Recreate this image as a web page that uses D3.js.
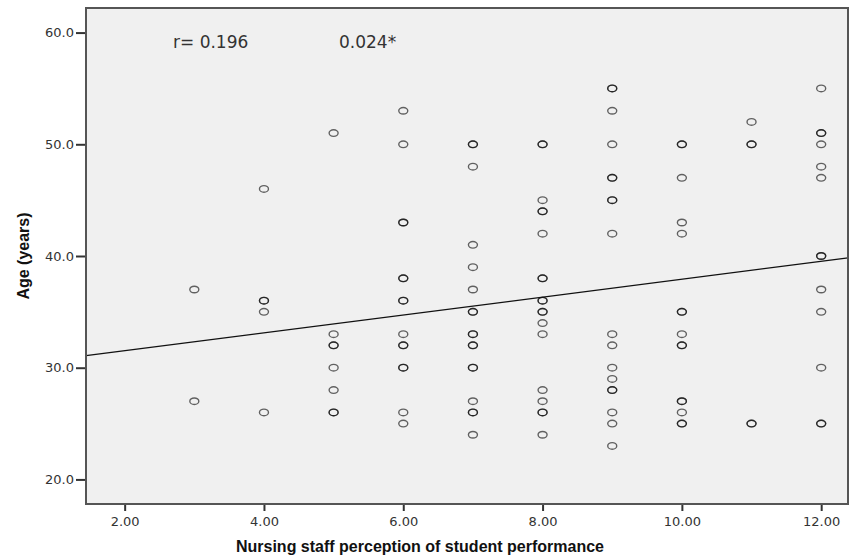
<!DOCTYPE html>
<html><head><meta charset="utf-8">
<script src="https://cdn.jsdelivr.net/npm/d3@7"></script>
<style>
html,body{margin:0;padding:0;background:#fff;}
svg{display:block;}
</style></head>
<body>
<svg id="chart" width="851" height="558"></svg>
<script>
// ---- data ----
const scoreCategories = [3, 4, 5, 6, 7, 8, 9, 10, 11, 12];
const agesScore3  = [37, 27];
const agesScore4  = [46, 36, 36, 35, 26];
const agesScore5  = [51, 33, 32, 32, 30, 28, 26, 26];
const agesScore6  = [53, 50, 43, 43, 38, 38, 36, 36, 33, 32, 32, 30, 30, 26, 25];
const agesScore7  = [50, 50, 48, 41, 39, 37, 35, 35, 33, 33, 32, 32, 30, 30, 27, 26, 26, 24];
const agesScore8  = [50, 50, 45, 44, 44, 42, 38, 38, 36, 36, 35, 35, 34, 33, 28, 27, 26, 26, 24];
const agesScore9  = [55, 55, 53, 50, 47, 47, 45, 45, 42, 33, 32, 30, 29, 28, 28, 26, 25, 23];
const agesScore10 = [50, 50, 47, 43, 42, 35, 35, 33, 32, 32, 27, 27, 26, 25, 25];
const agesScore11 = [52, 50, 50, 25, 25];
const agesScore12 = [55, 51, 51, 50, 48, 47, 40, 40, 37, 35, 30, 25, 25];
const agesByScore = [agesScore3, agesScore4, agesScore5, agesScore6, agesScore7,
                     agesScore8, agesScore9, agesScore10, agesScore11, agesScore12];
const xTickValues = [2, 4, 6, 8, 10, 12];
const yTickValues = [20, 30, 40, 50, 60];
const fitIntercept = 29.92;
const fitSlope = 0.80;
const annotationR = "r= 0.196";
const annotationP = "0.024*";
const xTitle = "Nursing staff perception of student performance";
const yTitle = "Age (years)";

// ---- layout ----
const plot = {left: 86, right: 848, top: 8, bottom: 504};
const svg = d3.select("#chart");

const x = d3.scaleLinear().domain([1.445, 12.385]).range([plot.left, plot.right]);
const y = d3.scaleLinear().domain([17.8, 62.2]).range([plot.bottom, plot.top]);

// plot background
svg.append("rect")
  .attr("x", plot.left).attr("y", plot.top)
  .attr("width", plot.right - plot.left).attr("height", plot.bottom - plot.top)
  .attr("fill", "#f0f0f0");

// points
const points = [];
scoreCategories.forEach((s, i) => agesByScore[i].forEach(a => points.push({score: s, age: a})));

svg.append("g").selectAll("ellipse").data(points).join("ellipse")
  .attr("cx", d => x(d.score))
  .attr("cy", d => y(d.age))
  .attr("rx", 4.5).attr("ry", 3.3)
  .attr("fill", "none")
  .attr("stroke", "#000")
  .attr("stroke-opacity", 0.6)
  .attr("stroke-width", 1.4);

// regression line
const xd = x.domain();
svg.append("line")
  .attr("x1", x(xd[0])).attr("y1", y(fitIntercept + fitSlope * xd[0]))
  .attr("x2", x(xd[1])).attr("y2", y(fitIntercept + fitSlope * xd[1]))
  .attr("stroke", "#111").attr("stroke-width", 1.3);

// frame
svg.append("rect")
  .attr("x", plot.left).attr("y", plot.top)
  .attr("width", plot.right - plot.left).attr("height", plot.bottom - plot.top)
  .attr("fill", "none").attr("stroke", "#555").attr("stroke-width", 2);

// axes
const xAxis = d3.axisBottom(x).tickValues(xTickValues).tickSize(6).tickPadding(6)
  .tickFormat(d3.format(".2f"));
const gx = svg.append("g").attr("transform", `translate(0,${plot.bottom + 1})`).call(xAxis);
const yAxis = d3.axisLeft(y).tickValues(yTickValues).tickSize(9).tickPadding(2)
  .tickFormat(d3.format(".1f"));
const gy = svg.append("g").attr("transform", `translate(${plot.left - 1},0)`).call(yAxis);
[gx, gy].forEach(g => {
  g.select(".domain").remove();
  g.selectAll(".tick line").attr("stroke", "#333").attr("stroke-width", 2);
  g.selectAll(".tick text").attr("fill", "#333")
    .style("font-family", "'DejaVu Sans', sans-serif").style("font-size", "13px");
});

// annotations
svg.append("text").attr("x", 173).attr("y", 48).text(annotationR)
  .style("font-family", "'DejaVu Sans', sans-serif").style("font-size", "17px").attr("fill", "#333");
svg.append("text").attr("x", 339).attr("y", 48).text(annotationP)
  .style("font-family", "'DejaVu Sans', sans-serif").style("font-size", "17px").attr("fill", "#333");

// titles
svg.append("text").attr("x", 420).attr("y", 552).attr("text-anchor", "middle").text(xTitle)
  .style("font-family", "'Liberation Sans', Arial, sans-serif").style("font-weight", "bold")
  .style("font-size", "16px").attr("fill", "#111");
svg.append("text").attr("transform", "translate(29,256) rotate(-90)")
  .attr("text-anchor", "middle").text(yTitle)
  .style("font-family", "'Liberation Sans', Arial, sans-serif").style("font-weight", "bold")
  .style("font-size", "16px").attr("fill", "#111");
</script>
</body></html>
